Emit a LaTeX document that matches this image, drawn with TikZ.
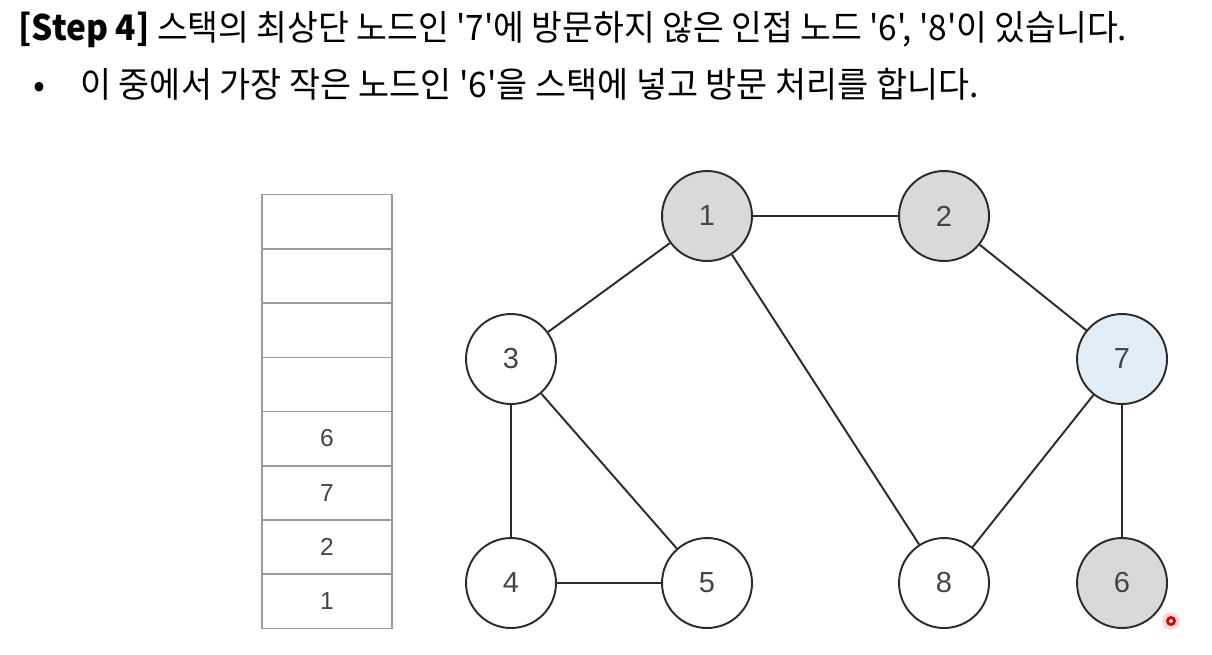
\documentclass[tikz,border=0pt]{standalone}
\usepackage{fontspec}
\setmainfont{Liberation Sans}
\newfontfamily\krfont{Noto Sans CJK KR}
\definecolor{visited}{HTML}{D9D9DB}
\definecolor{current}{HTML}{E1EEF8}
\definecolor{edgegray}{HTML}{2B2B2B}
\definecolor{stackline}{HTML}{9A9A9A}
\definecolor{digit}{HTML}{444444}

\begin{document}
\begin{tikzpicture}[x=0.02cm, y=-0.02cm,
  vertex/.style={circle, draw=edgegray, line width=1.1pt, fill=white, minimum size=1.8cm, inner sep=0pt, text=digit, font=\fontsize{16.5}{16.5}\selectfont},
  seen/.style={vertex, fill=visited},
  curnode/.style={vertex, fill=current},
  cell/.style={draw=stackline, line width=0.6pt, minimum width=2.6cm, minimum height=1.082cm, inner sep=0pt, text=digit, font=\fontsize{14}{14}\selectfont},
  link/.style={draw=edgegray, line width=1.1pt},
  caption/.style={anchor=base west, inner sep=0pt, font=\krfont\fontsize{20}{20}\selectfont}]
\useasboundingbox[fill=white] (0,0) rectangle (1212,654);

% Title
\node[caption] (title) at (18,40) {\scalebox{0.952}[1]{\textbf{[Step 4]} 스택의 최상단 노드인 '7'에 방문하지 않은 인접 노드 '6', '8'이 있습니다.}};
\node[caption] (bullet) at (33,97) {•};
\node[caption] (line2) at (80,97) {\scalebox{0.96}[1]{이 중에서 가장 작은 노드인 '6'을 스택에 넣고 방문 처리를 합니다.}};

% Stack
\node[cell] (c8) at (327,222) {};
\node[cell] (c7) at (327,276) {};
\node[cell] (c6) at (327,330) {};
\node[cell] (c5) at (327,384.5) {};
\node[cell] (c4) at (327,438.5) {6};
\node[cell] (c3) at (327,493) {7};
\node[cell] (c2) at (327,547) {2};
\node[cell] (c1) at (327,601) {1};

% Graph
\node[seen] (n1) at (707,216) {1};
\node[seen] (n2) at (944,216) {2};
\node[vertex] (n3) at (511,359) {3};
\node[curnode] (n7) at (1122,359) {7};
\node[vertex] (n4) at (511,583) {4};
\node[vertex] (n5) at (707,583) {5};
\node[vertex] (n8) at (944,583) {8};
\node[seen] (n6) at (1122,583) {6};

\draw[link] (n1) -- (n2);
\draw[link] (n1) -- (n3);
\draw[link] (n1) -- (n8);
\draw[link] (n2) -- (n7);
\draw[link] (n3) -- (n4);
\draw[link] (n3) -- (n5);
\draw[link] (n4) -- (n5);
\draw[link] (n7) -- (n8);
\draw[link] (n7) -- (n6);

% pointer mark
\fill[red!15] (1171,621) circle (9);
\draw[red!85!black, line width=1.6pt, fill=white] (1171,621) circle (3.5);
\end{tikzpicture}
\end{document}
